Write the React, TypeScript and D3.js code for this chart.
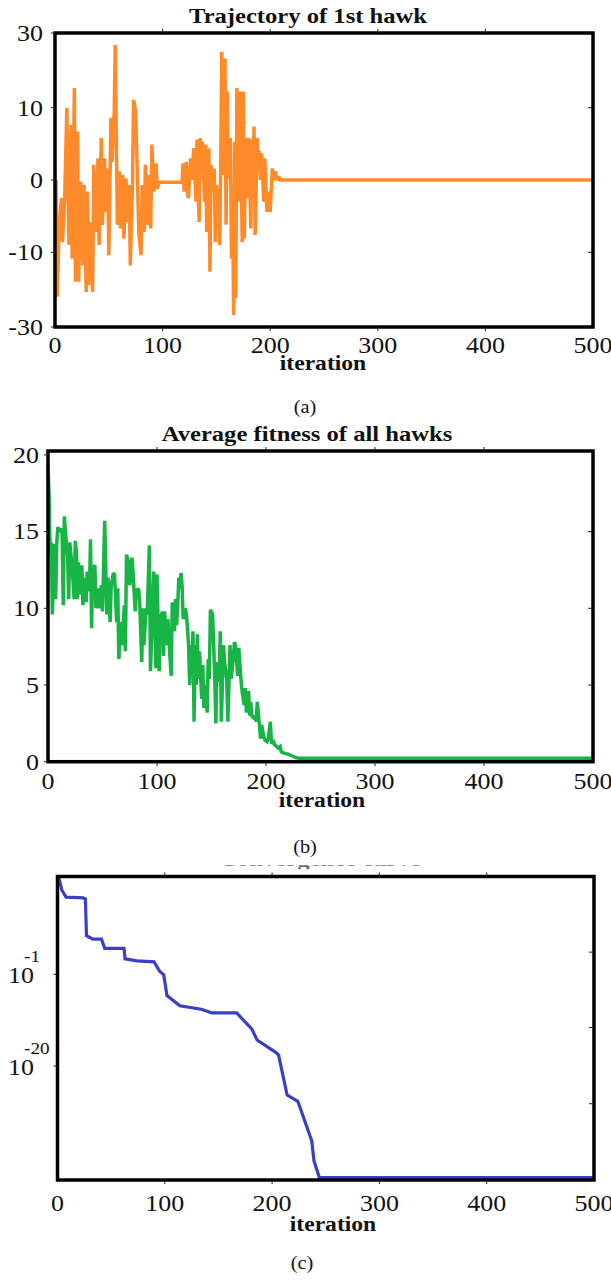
import React from 'react'
import * as d3 from 'd3'

const xTicks = [0, 100, 200, 300, 400, 500]
const xInnerTicks = [100, 200, 300, 400]

// (a) trajectory of the first hawk
const hawkIter = [
  1, 2, 4, 6, 7, 9, 11, 13, 15, 16,
  18, 19, 21, 22, 24, 26, 27, 29, 30, 32,
  33, 35, 36, 38, 40, 41, 43, 44, 46, 47,
  49, 50, 52, 53, 55, 56, 58, 60, 61, 63,
  64, 66, 67, 69, 70, 72, 73, 75, 77, 78,
  80, 81, 83, 84, 86, 87, 89, 90, 92, 94,
  95, 97, 118, 119, 120, 122, 123, 124, 126, 127,
  129, 131, 132, 134, 135, 136, 137, 139, 140, 141,
  143, 144, 145, 146, 148, 149, 150, 151, 152, 153,
  154, 155, 157, 158, 159, 160, 161, 163, 164, 165,
  166, 167, 168, 169, 171, 172, 174, 175, 176, 177,
  178, 180, 182, 183, 184, 185, 186, 188, 189, 190,
  191, 192, 194, 195, 197, 198, 200, 202, 203, 205,
  206, 208, 209, 500,
]
const hawkPos = [
  0, -21.9, -6.2, -2.5, -8.6, -2.5, 10, -9, 7.6, -11.7,
  15.3, -17.9, 6.7, -17.9, -0.2, -13.5, -0.7, -20.6, -1.6, -18.8,
  -5.8, -20.6, 2.1, -7.2, 3, -9, 5.8, -6.2, 3, -4.4,
  1.6, -10.8, 8.6, 2.5, 9.3, 26.8, -6.2, 1.2, -6.7, 0.7,
  -8.1, 0.2, -5.8, -0.7, -13.5, -0.7, 12.1, 9.5, -2.1, -7.6,
  -10.8, -0.7, -7.2, 2.1, -6.2, 0.7, -6.7, 4.9, -1.6, 2.3,
  -1.2, -0.3, -0.3, 2.3, -1.6, 2.5, -1.8, -2.5, 3, 0,
  4.4, -3, 5.6, -5.8, 5.8, 1.6, 5.3, -3, 4.9, -7.2,
  4.4, -15.2, 2.1, -1.6, 1.6, -8.6, -0.7, -2.5, -1.2, -9,
  2.1, 25, 0.7, 23.2, -6.2, 14.3, 0.2, 5.8, -11.7, -1.6,
  -26.8, 5.3, -22.3, 15.3, -3, 14.3, -8.6, 14.3, -8.1, 5.8,
  -2.5, 5.8, -6.7, 5.6, 2.1, 7.4, -7.6, 5.8, 1.6, 4,
  0, 3.7, -3, 3, -4.4, -1.6, -4.4, 1.6, 0, 1.2,
  0, 0.5, 0, 0,
]
const hawkTicks = [30, 10, 0, -10, -30]
const hawkRightTicks = [10, -10]

// (b) average fitness of all hawks
const fitIter = [
  0, 1, 2, 3, 4, 6, 7, 8, 9, 10,
  12, 13, 14, 15, 17, 18, 19, 20, 21, 22,
  24, 25, 26, 27, 28, 29, 31, 32, 34, 35,
  36, 38, 39, 40, 41, 43, 44, 46, 47, 49,
  50, 52, 54, 55, 57, 58, 60, 61, 63, 64,
  65, 67, 68, 70, 71, 72, 74, 75, 77, 78,
  80, 81, 83, 84, 86, 87, 88, 90, 91, 93,
  94, 96, 97, 99, 100, 102, 103, 105, 106, 107,
  109, 110, 112, 113, 114, 116, 117, 118, 119, 120,
  121, 122, 123, 124, 126, 127, 129, 130, 131, 132,
  133, 134, 135, 136, 137, 138, 139, 141, 142, 143,
  145, 146, 147, 148, 149, 151, 152, 153, 154, 155,
  157, 158, 159, 161, 162, 164, 165, 167, 168, 170,
  171, 172, 174, 175, 177, 178, 180, 181, 182, 184,
  185, 186, 187, 189, 190, 191, 192, 194, 195, 196,
  198, 199, 201, 202, 204, 205, 207, 208, 211, 213,
  214, 217, 221, 224, 227, 230, 500,
]
const fitAvg = [
  19.3, 17.4, 13.5, 14.3, 9.6, 14.2, 10.6, 14.2, 15.3, 15.0,
  15.2, 14.8, 10.2, 16.0, 14.1, 13.5, 10.6, 14.3, 13.5, 12.8,
  10.6, 14.4, 13.7, 10.6, 13.0, 10.9, 12.8, 10.2, 12.0, 10.4,
  12.4, 11.1, 14.5, 8.7, 12.6, 12.8, 10.0, 11.3, 10.0, 11.5,
  9.8, 15.7, 9.6, 12.0, 9.1, 11.5, 12.3, 12.2, 9.1, 11.3,
  6.7, 9.1, 7.6, 10.2, 7.2, 13.5, 13.0, 11.5, 13.3, 12.4,
  9.8, 11.1, 11.3, 10.6, 6.5, 10.0, 7.6, 10.0, 9.6, 14.1,
  5.9, 10.0, 12.4, 6.1, 12.2, 5.9, 9.3, 9.8, 6.9, 9.8,
  7.6, 9.3, 6.7, 5.6, 10.4, 8.5, 10.6, 8.9, 10.2, 12.0,
  11.3, 12.3, 11.5, 9.3, 10.0, 9.6, 7.6, 5.0, 7.6, 6.1,
  8.5, 2.6, 7.6, 5.0, 8.3, 5.4, 7.2, 4.1, 6.3, 3.5,
  5.0, 3.2, 6.7, 5.4, 9.9, 9.6, 7.6, 5.4, 2.5, 6.5,
  5.2, 8.5, 2.6, 7.6, 6.5, 5.4, 2.6, 7.6, 5.4, 6.7,
  7.8, 7.6, 5.6, 7.4, 5.4, 4.6, 3.7, 4.8, 3.2, 4.6,
  3.0, 3.9, 3.0, 2.8, 3.0, 2.6, 3.9, 2.4, 1.5, 2.4,
  1.6, 1.4, 1.3, 1.5, 2.6, 1.2, 1.3, 1.1, 0.9, 1.0,
  0.65, 0.54, 0.48, 0.37, 0.28, 0.22, 0.22,
]
const fitTicks = [20, 15, 10, 5, 0]
const fitRightTicks = [15, 10, 5]

// (c) convergence curve (log scale)
const convIter = [1, 4, 8, 19, 24, 26, 27, 33, 41, 44, 62, 63, 74, 90, 95, 99, 102, 114, 134, 144, 167, 181, 186, 203, 206, 214, 224, 237, 239, 244, 500]
const convBest = [1.8e19, 3e16, 1e15, 8e14, 7e14, 4e14, 1e7, 2e6, 2e6, 2.5e4, 2.5e4, 160, 63, 40, 0.5, 0.08, 4e-6, 3e-8, 6e-9, 1e-9, 1e-9, 5e-13, 2.5e-15, 8e-18, 2e-18, 1e-26, 5e-28, 3e-36, 2.5e-40, 8e-44, 8e-44]
const convTicks = [1e-1, 1e-20]
const convTickExp = ['-1', '-20']
const convRightTicks = [4e3, 1e-12, 1.6e-28]

const serif = '"Liberation Serif", "Times New Roman", serif'

const Label = ({ x, y, size, bold = false, anchor = 'middle', stretch = 1.13, fill = '#111', children }) => (
  <text
    transform={`translate(${x},${y}) scale(${stretch},1)`}
    textAnchor={anchor}
    fontSize={size}
    fontWeight={bold ? 'bold' : 'normal'}
    fontFamily={serif}
    fill={fill}
  >
    {children}
  </text>
)

const Frame = ({ x0, x1, y0, y1 }) => (
  <rect x={x0} y={y0} width={x1 - x0} height={y1 - y0} fill="none" stroke="#000" strokeWidth={3.5} />
)

const App = () => {
  // panel (a)
  const xA = d3.scaleLinear().domain([0, 500]).range([55, 593])
  const yA = d3.scaleLinear().domain([-30, -10, 0, 10, 30]).range([327, 252.3, 180, 107.7, 33])
  const hawkPath = d3.line<number>()
    .x((d, i) => xA(hawkIter[i]))
    .y(d => yA(d))(hawkPos)

  // panel (b)
  const xB = d3.scaleLinear().domain([0, 500]).range([48, 593])
  const yB = d3.scaleLinear().domain([0, 20]).range([761.7, 454.9])
  const fitPath = d3.line<number>()
    .x((d, i) => xB(fitIter[i]))
    .y(d => yB(d))(fitAvg)

  // panel (c)
  const xC = d3.scaleLinear().domain([0, 500]).range([57.5, 594])
  const yC = d3.scaleLog().domain([Math.pow(10, -43.6), Math.pow(10, 19.27)]).range([1180, 876.5])
  const convPath = d3.line<number>()
    .x((d, i) => xC(convIter[i]))
    .y(d => yC(d))(convBest)

  const tick = '#222'

  return (
    <svg width={611} height={1281} style={{ position: 'absolute', left: 0, top: 0, background: '#fff' }}>
      <defs>
        {/* only the bottom sliver of panel (c)'s title is visible in the figure */}
        <clipPath id="cutTitle" clipPathUnits="userSpaceOnUse">
          <rect x={0} y={865.2} width={611} height={4} />
        </clipPath>
      </defs>

      {/* (a) */}
      <Label x={308} y={23} size={20} bold stretch={1.23}>Trajectory of 1st hawk</Label>
      <path d={hawkPath} fill="none" stroke="#ff8a2a" strokeWidth={3.5} strokeLinejoin="miter" strokeMiterlimit={2} />
      <Frame x0={55} x1={593} y0={33} y1={327} />
      {xInnerTicks.map(t => (
        <g key={'at' + t}>
          <line x1={xA(t)} x2={xA(t)} y1={327} y2={331} stroke={tick} />
          <line x1={xA(t)} x2={xA(t)} y1={29} y2={33} stroke={tick} />
        </g>
      ))}
      {hawkTicks.map(t => (
        <line key={'al' + t} x1={51} x2={55} y1={yA(t)} y2={yA(t)} stroke={tick} />
      ))}
      {hawkRightTicks.map(t => (
        <line key={'ar' + t} x1={588} x2={593} y1={yA(t)} y2={yA(t)} stroke={tick} />
      ))}
      {hawkTicks.map(t => (
        <Label key={'aly' + t} x={43} y={yA(t) + 7.8} size={23} anchor="end">{String(t)}</Label>
      ))}
      {xTicks.map(t => (
        <Label key={'alx' + t} x={xA(t)} y={353} size={23}>{String(t)}</Label>
      ))}
      <Label x={323} y={370} size={20} bold stretch={1.18}>iteration</Label>
      <Label x={305} y={413} size={18}>(a)</Label>

      {/* (b) */}
      <Label x={307} y={441} size={20} bold stretch={1.23}>Average fitness of all hawks</Label>
      <path d={fitPath} fill="none" stroke="#19b446" strokeWidth={3.5} strokeLinejoin="miter" strokeMiterlimit={2} />
      <Frame x0={48} x1={593} y0={451} y1={761.7} />
      {xInnerTicks.map(t => (
        <g key={'bt' + t}>
          <line x1={xB(t)} x2={xB(t)} y1={761.7} y2={766} stroke={tick} />
          <line x1={xB(t)} x2={xB(t)} y1={447} y2={451} stroke={tick} />
        </g>
      ))}
      {fitTicks.map(t => (
        <line key={'bl' + t} x1={44} x2={48} y1={yB(t)} y2={yB(t)} stroke={tick} />
      ))}
      {fitRightTicks.map(t => (
        <line key={'br' + t} x1={588} x2={593} y1={yB(t)} y2={yB(t)} stroke={tick} />
      ))}
      {fitTicks.map(t => (
        <Label key={'bly' + t} x={39} y={yB(t) + 7.8} size={23} anchor="end">{String(t)}</Label>
      ))}
      {xTicks.map(t => (
        <Label key={'blx' + t} x={xB(t)} y={789} size={23}>{String(t)}</Label>
      ))}
      <Label x={322} y={807} size={20} bold stretch={1.18}>iteration</Label>
      <Label x={305} y={853} size={18}>(b)</Label>

      {/* (c) */}
      <g clipPath="url(#cutTitle)">
        <Label x={320} y={866} size={20} bold stretch={1.23} fill="#666">Convergence curve</Label>
      </g>
      <path d={convPath} fill="none" stroke="#3a3fc8" strokeWidth={3.2} />
      <Frame x0={57.5} x1={594} y0={876.5} y1={1180} />
      {xInnerTicks.map(t => (
        <g key={'ct' + t}>
          <line x1={xC(t)} x2={xC(t)} y1={1180} y2={1184} stroke={tick} />
          <line x1={xC(t)} x2={xC(t)} y1={872.5} y2={876.5} stroke={tick} />
        </g>
      ))}
      {convTicks.map(t => (
        <line key={'cl' + t} x1={53.5} x2={57.5} y1={yC(t)} y2={yC(t)} stroke={tick} />
      ))}
      {convRightTicks.map(t => (
        <line key={'cr' + t} x1={589} x2={594} y1={yC(t)} y2={yC(t)} stroke={tick} />
      ))}
      {convTicks.map((t, i) => (
        <g key={'cly' + t}>
          <Label x={34} y={yC(t) + 9} size={23} anchor="end">10</Label>
          <Label x={24} y={yC(t) - 12} size={17} anchor="start">{convTickExp[i]}</Label>
        </g>
      ))}
      {xTicks.map(t => (
        <Label key={'clx' + t} x={xC(t)} y={1211} size={23}>{String(t)}</Label>
      ))}
      <Label x={333} y={1231} size={20} bold stretch={1.18}>iteration</Label>
      <Label x={302} y={1269} size={18}>(c)</Label>
    </svg>
  )
}

export default App
